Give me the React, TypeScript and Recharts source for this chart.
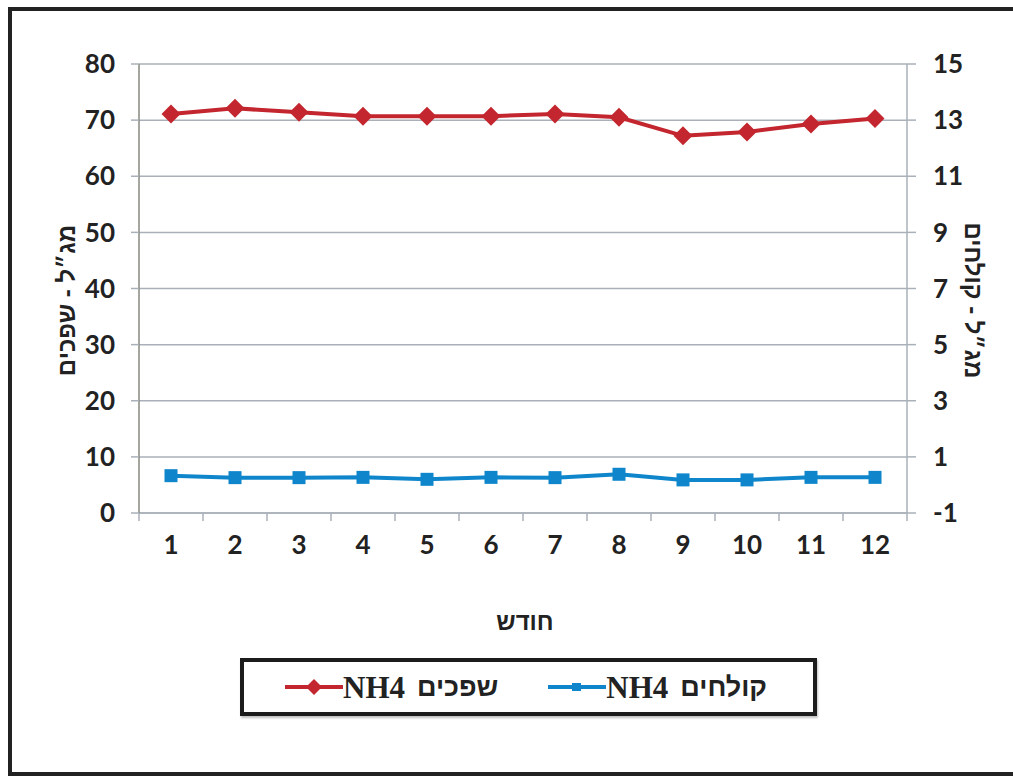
import { ComposedChart, Line, XAxis, YAxis, CartesianGrid } from 'recharts';

const months = ['1', '2', '3', '4', '5', '6', '7', '8', '9', '10', '11', '12'];
const sewageNH4 = [71.1, 72.1, 71.4, 70.7, 70.7, 70.7, 71.1, 70.5, 67.2, 67.9, 69.3, 70.3];
const effluentNH4 = [0.33, 0.26, 0.26, 0.27, 0.2, 0.27, 0.26, 0.38, 0.18, 0.18, 0.27, 0.27];
const leftTicks = [0, 10, 20, 30, 40, 50, 60, 70, 80];
const rightTicks = [-1, 1, 3, 5, 7, 9, 11, 13, 15];

const seriesNames = ['שפכים', 'קולחים'];
const RED = '#c3262e';
const BLUE = '#0f86cc';
const GRID = '#a9b0b8';
const NUM_FONT = 'Lato, "Liberation Sans", sans-serif';
const HEB_FONT = '"Liberation Sans", "DejaVu Sans", sans-serif';

const W = 1013;
const H = 776;
const PLOT_LEFT = 139;
const PLOT_RIGHT = 907;
const BAND = (PLOT_RIGHT - PLOT_LEFT) / months.length;

const data = months.map((m, i) => ({ m, sewage: sewageNH4[i], effluent: effluentNH4[i] }));

function Diamond(props: any) {
  const { cx, cy, index } = props;
  if (cx == null || cy == null) return <g key={index} />;
  const r = 9.5;
  return (
    <path key={index} d={`M${cx},${cy - r}L${cx + r},${cy}L${cx},${cy + r}L${cx - r},${cy}Z`} fill={RED} />
  );
}

function Square(props: any) {
  const { cx, cy, index } = props;
  if (cx == null || cy == null) return <g key={index} />;
  const r = 6.5;
  return <rect key={index} x={cx - r} y={cy - r} width={r * 2} height={r * 2} fill={BLUE} />;
}

function MonthTick(props: any) {
  const { x, y, payload, index } = props;
  return (
    <g>
      <line x1={x - BAND / 2} x2={x - BAND / 2} y1={y} y2={y + 8} stroke={GRID} strokeWidth={1.5} />
      {index === months.length - 1 && (
        <line x1={x + BAND / 2} x2={x + BAND / 2} y1={y} y2={y + 8} stroke={GRID} strokeWidth={1.5} />
      )}
      <text x={x} y={y + 41} textAnchor="middle" fill="#222" fontSize={26} fontWeight={700} fontFamily={NUM_FONT}>
        {payload.value}
      </text>
    </g>
  );
}

function LegendItem({ color, marker, label }: { color: string; marker: 'diamond' | 'square'; label: string }) {
  return (
    <div style={{ display: 'flex', alignItems: 'center' }}>
      <svg width={58} height={24}>
        <line x1={0} x2={58} y1={12} y2={12} stroke={color} strokeWidth={4} />
        {marker === 'diamond' ? (
          <path d="M29,4L37,12L29,20L21,12Z" fill={color} />
        ) : (
          <rect x={24} y={8} width={9} height={8} fill={color} />
        )}
      </svg>
      <span style={{ fontFamily: '"Liberation Serif", serif', fontWeight: 700, fontSize: 31, color: '#222', lineHeight: 1 }}>NH4</span>
      <span style={{ fontFamily: HEB_FONT, fontWeight: 700, fontSize: 27, color: '#222', marginLeft: 12, lineHeight: 1 }}>{label}</span>
    </div>
  );
}

export default function App() {
  return (
    <div style={{ position: 'absolute', left: 0, top: 0, width: W, height: H, background: '#fff', overflow: 'hidden' }}>
      <div style={{ position: 'absolute', left: 8, top: 7, width: 1100, height: 761, border: '4px solid #222' }} />
      <div style={{ position: 'absolute', left: 0, top: 0 }}>
        <ComposedChart width={W} height={H} data={data} margin={{ top: 64, right: 26, bottom: 203, left: 59 }}>
          <CartesianGrid yAxisId="left" vertical={false} stroke={GRID} strokeWidth={1.5} />
          <XAxis
            dataKey="m"
            scale="band"
            height={60}
            interval={0}
            tickLine={false}
            tickSize={0}
            tickMargin={0}
            axisLine={{ stroke: GRID, strokeWidth: 1.5 }}
            tick={<MonthTick />}
          />
          <YAxis
            yAxisId="left"
            width={80}
            domain={[0, 80]}
            ticks={leftTicks}
            interval={0}
            tickSize={8}
            tickMargin={16}
            axisLine={{ stroke: '#858a80', strokeWidth: 1.5 }}
            tickLine={{ stroke: GRID, strokeWidth: 1.5 }}
            tick={{ fill: '#222', fontSize: 26, fontWeight: 700, fontFamily: NUM_FONT }}
            label={(p: any) => {
              const vb = p.viewBox;
              const cx = 66;
              const cy = vb.y + vb.height / 2 + 12;
              return (
                <text x={cx} y={cy} transform={`rotate(-90, ${cx}, ${cy})`} textAnchor="middle" dominantBaseline="central"
                  fill="#222" fontSize={24} fontWeight={700} fontFamily={HEB_FONT}>
                  {'מג״ל - ' + seriesNames[0]}
                </text>
              );
            }}
          />
          <YAxis
            yAxisId="right"
            orientation="right"
            width={80}
            domain={[-1, 15]}
            ticks={rightTicks}
            interval={0}
            tickSize={9}
            tickMargin={17}
            axisLine={{ stroke: GRID, strokeWidth: 1.5 }}
            tickLine={{ stroke: GRID, strokeWidth: 1.5 }}
            tick={{ fill: '#222', fontSize: 26, fontWeight: 700, fontFamily: NUM_FONT }}
            label={(p: any) => {
              const vb = p.viewBox;
              const cx = 973;
              const cy = vb.y + vb.height / 2 + 12;
              return (
                <text x={cx} y={cy} transform={`rotate(90, ${cx}, ${cy})`} textAnchor="middle" dominantBaseline="central"
                  fill="#222" fontSize={24} fontWeight={700} fontFamily={HEB_FONT}>
                  {'מג״ל - ' + seriesNames[1]}
                </text>
              );
            }}
          />
          <Line yAxisId="left" dataKey="sewage" stroke={RED} strokeWidth={4} dot={Diamond} activeDot={false} isAnimationActive={false} />
          <Line yAxisId="right" dataKey="effluent" stroke={BLUE} strokeWidth={4} dot={Square} activeDot={false} isAnimationActive={false} />
        </ComposedChart>
      </div>
      <div style={{ position: 'absolute', left: 525, top: 608, transform: 'translateX(-50%)', fontFamily: HEB_FONT, fontWeight: 700, fontSize: 24, color: '#222' }}>
        חודש
      </div>
      <div
        style={{
          position: 'absolute', left: 240, top: 658, width: 528, height: 50, border: '4px solid #1c1c1c',
          boxShadow: '1px 2px 2px rgba(0,0,0,0.25)', display: 'flex', alignItems: 'center', paddingLeft: 41, boxSizing: 'content-box',
        }}
      >
        <LegendItem color={RED} marker="diamond" label={seriesNames[0]} />
        <div style={{ width: 50 }} />
        <LegendItem color={BLUE} marker="square" label={seriesNames[1]} />
      </div>
    </div>
  );
}
